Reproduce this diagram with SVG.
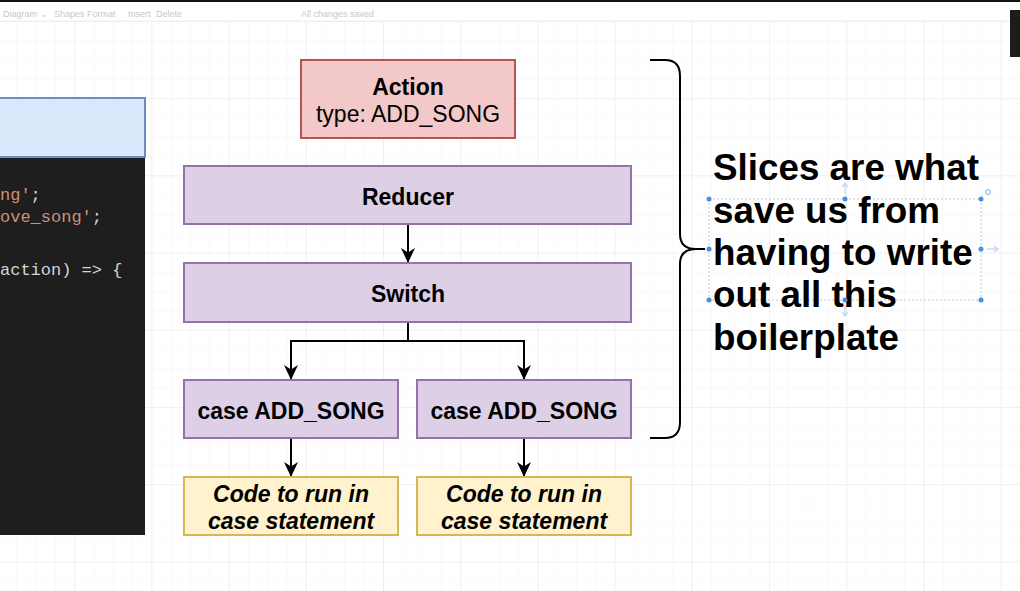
<svg xmlns="http://www.w3.org/2000/svg" width="1020" height="591" viewBox="0 0 1020 591">
<defs>
<pattern id="minor" width="19.3" height="19.3" patternUnits="userSpaceOnUse" x="-3" y="21">
<path d="M19.3,0 L0,0 L0,19.3" fill="none" stroke="#f4f4f4" stroke-width="1"/>
</pattern>
<pattern id="major" width="77.2" height="77.2" patternUnits="userSpaceOnUse" x="-3" y="21">
<path d="M77.2,0 L0,0 L0,77.2" fill="none" stroke="#e8e8e8" stroke-width="1"/>
</pattern>
<marker id="arr" markerUnits="userSpaceOnUse" markerWidth="18" markerHeight="18" viewBox="-1 -9 18 18" refX="15" refY="0" orient="auto">
<path d="M0,-7 L15,0 L0,7 L4.5,0 Z" fill="#000"/>
</marker>
<style>
.box{stroke-width:2}
.purple{fill:#ddd0e6;stroke:#9673a6}
.red{fill:#f3c8c8;stroke:#b85450}
.yellow{fill:#fff2cc;stroke:#d6b656}
.blue{fill:#dae8fc;stroke:#6c8ebf}
.lbl{font-family:"Liberation Sans",Arial,sans-serif;font-size:23px;fill:#000;text-anchor:middle}
.b{font-weight:bold}
.bi{font-weight:bold;font-style:italic}
.edge{fill:none;stroke:#000;stroke-width:2}
.code{font-family:"Liberation Mono","DejaVu Sans Mono",monospace;font-size:17px}
.str{fill:#ce9178}
.pun{fill:#d4d4d4}
.tb{font-family:"Liberation Sans",Arial,sans-serif;font-size:9px;fill:#c8c8c8}
.handle{fill:#4a90e2}
</style>
</defs>
<rect x="0" y="0" width="1020" height="591" fill="#fff"/>
<rect x="0" y="21" width="1020" height="570" fill="url(#minor)"/>
<rect x="0" y="21" width="1020" height="570" fill="url(#major)"/>
<rect x="0" y="0" width="1020" height="2" fill="#111"/>
<line x1="0" y1="21" x2="1020" y2="21" stroke="#eeeeee" stroke-width="1"/>
<g id="toolbar">
<text class="tb" x="3" y="17">Diagram ⌄</text>
<text class="tb" x="54" y="17">Shapes</text>
<text class="tb" x="87" y="17">Format</text>
<text class="tb" x="128" y="17">Insert</text>
<text class="tb" x="156" y="17">Delete</text>
<text class="tb" x="301" y="17">All changes saved</text>
</g>
<rect x="1010" y="10" width="10" height="47" fill="#1c1c1c"/>

<g id="code-panel">
<rect x="-2" y="98" width="147" height="59" class="box blue"/>
<rect x="0" y="158" width="145" height="377" fill="#1e1e1e"/>
<text class="code" x="0" y="200"><tspan class="str">ng'</tspan><tspan class="pun">;</tspan></text>
<text class="code" x="0" y="222"><tspan class="str">ove_song'</tspan><tspan class="pun">;</tspan></text>
<text class="code pun" x="0" y="275">action) =&gt; {</text>
</g>

<g id="connectors">
<path class="edge" d="M408,224 L408,263" marker-end="url(#arr)"/>
<path class="edge" d="M408,322 L408,341 L291,341 L291,380" marker-end="url(#arr)"/>
<path class="edge" d="M408,341 L524,341 L524,380" marker-end="url(#arr)"/>
<path class="edge" d="M291,438 L291,477" marker-end="url(#arr)"/>
<path class="edge" d="M524,438 L524,477" marker-end="url(#arr)"/>
</g>

<g id="action">
<rect x="301" y="60" width="214" height="78" class="box red"/>
<text class="lbl b" x="408" y="95">Action</text>
<text class="lbl" x="408" y="122">type: ADD_SONG</text>
</g>
<g id="reducer">
<rect x="184" y="166" width="447" height="58" class="box purple"/>
<text class="lbl b" x="408" y="205">Reducer</text>
</g>
<g id="switch">
<rect x="184" y="263" width="447" height="59" class="box purple"/>
<text class="lbl b" x="408" y="302">Switch</text>
</g>
<g id="case1">
<rect x="184" y="380" width="214" height="58" class="box purple"/>
<text class="lbl b" x="291" y="419">case ADD_SONG</text>
</g>
<g id="case2">
<rect x="417" y="380" width="214" height="58" class="box purple"/>
<text class="lbl b" x="524" y="419">case ADD_SONG</text>
</g>
<g id="code1">
<rect x="184" y="477" width="214" height="58" class="box yellow"/>
<text class="lbl bi" x="291" y="502">Code to run in</text>
<text class="lbl bi" x="291" y="529">case statement</text>
</g>
<g id="code2">
<rect x="417" y="477" width="214" height="58" class="box yellow"/>
<text class="lbl bi" x="524" y="502">Code to run in</text>
<text class="lbl bi" x="524" y="529">case statement</text>
</g>

<g id="bracket">
<path class="edge" d="M650,60 L665,60 Q680,60 680,76 L680,234 Q680,249 696,249 L705,249 M696,249 Q680,249 680,264 L680,422 Q680,438 665,438 L650,438"/>
</g>

<g id="note">
<rect x="709" y="199" width="272" height="101" fill="none" stroke="#b8c8dc" stroke-width="1" stroke-dasharray="2,2"/>
<text font-family="'Liberation Sans',Arial,sans-serif" font-size="36.8" font-weight="bold" fill="#000">
<tspan x="713" y="180">Slices are what</tspan>
<tspan x="713" y="223">save us from</tspan>
<tspan x="713" y="265">having to write</tspan>
<tspan x="713" y="307">out all this</tspan>
<tspan x="713" y="350">boilerplate</tspan>
</text>
<circle class="handle" cx="709" cy="199" r="2.5"/>
<circle class="handle" cx="845" cy="199" r="2.5"/>
<circle class="handle" cx="981" cy="199" r="2.5"/>
<circle class="handle" cx="709" cy="249" r="2.5"/>
<circle class="handle" cx="981" cy="249" r="2.5"/>
<circle class="handle" cx="709" cy="300" r="2.5"/>
<circle class="handle" cx="845" cy="300" r="2.5"/>
<circle class="handle" cx="981" cy="300" r="2.5"/>
<path d="M845,194 L845,184 M842,187 L845,183 L848,187" fill="none" stroke="#c9dcf2" stroke-width="1.5"/>
<path d="M845,305 L845,315 M842,312 L845,316 L848,312" fill="none" stroke="#c9dcf2" stroke-width="1.5"/>
<path d="M987,249 L997,249 M994,246 L998,249 L994,252" fill="none" stroke="#c9dcf2" stroke-width="1.5"/>
<circle cx="988" cy="192" r="2.5" fill="none" stroke="#7fb0e6" stroke-width="1"/>
</g>
</svg>
